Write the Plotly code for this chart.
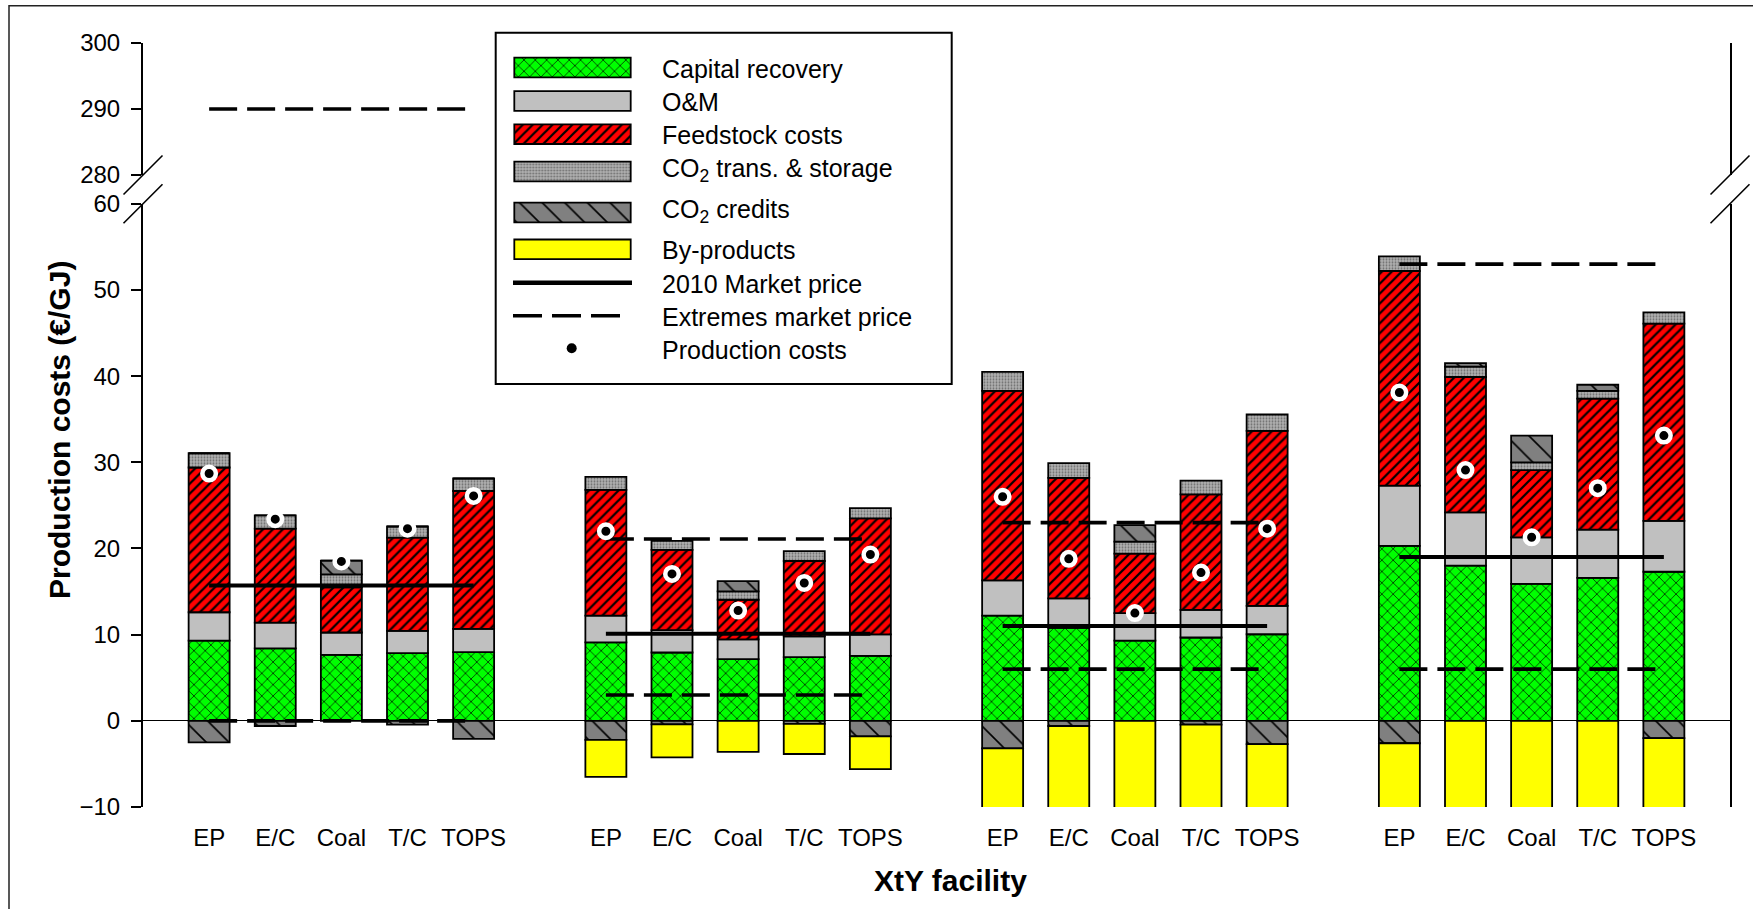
import plotly.graph_objects as go

# ---------------------------------------------------------------- data
facilities = ["EP", "E/C", "Coal", "T/C", "TOPS"]
n_groups = 4

# cost components per facility (€/GJ), four scenario groups of five facilities
capital_recovery = [9.3, 8.4, 7.65, 7.85, 7.97,
                    9.1, 7.93, 7.15, 7.4, 7.54,
                    12.2, 10.8, 9.3, 9.67, 10.05,
                    20.3, 18.0, 15.9, 16.6, 17.3]
om_costs = [3.3, 3.0, 2.6, 2.6, 2.7,
            3.1, 2.6, 2.3, 2.4, 2.5,
            4.1, 3.4, 3.2, 3.2, 3.3,
            7.0, 6.2, 5.4, 5.6, 5.9]
feedstock_costs = [16.8, 10.9, 5.25, 10.8, 16.0,
                   14.6, 9.3, 4.6, 8.75, 13.45,
                   22.0, 14.0, 6.9, 13.4, 20.3,
                   24.9, 15.7, 7.8, 15.2, 22.9]
co2_transport_storage = [1.65, 1.55, 1.5, 1.3, 1.45,
                         1.5, 1.05, 0.97, 1.14, 1.2,
                         2.2, 1.7, 1.4, 1.6, 1.9,
                         1.7, 1.2, 0.9, 0.9, 1.3]
co2_credits = [-2.5, -0.6, 1.6, -0.45, -2.1,
               -2.2, -0.4, 1.2, -0.35, -1.8,
               -3.2, -0.6, 1.9, -0.45, -2.7,
               -2.6, 0.4, 3.1, 0.7, -2.0]
by_products = [0.0, 0.0, 0.0, 0.0, 0.0,
               -4.3, -3.85, -3.6, -3.5, -3.8,
               -11.3, -10.5, -10.2, -10.25, -10.5,
               -13.2, -12.4, -11.8, -12.0, -12.3]
production_costs = [28.7, 23.4, 18.5, 22.3, 26.1,
                    22.0, 17.05, 12.8, 16.0, 19.3,
                    26.0, 18.8, 12.5, 17.2, 22.3,
                    38.1, 29.1, 21.3, 27.0, 33.1]

market_price_2010 = [15.7, 10.1, 11.0, 19.0]
market_price_low = [0.0, 3.0, 6.0, 6.0]
market_price_high = [290.0, 21.1, 23.0, 53.0]

# ---------------------------------------------------------------- geometry
W, H = 1753, 909
PL, PR, PT, PB = 143, 1730, 43, 807       # plot area edges in page pixels
LOWER_MAX, UPPER_MIN = 60, 280             # axis break


def fx(px):
    return (px - PL) / (PR - PL)


def fy(py):
    return (PB - py) / (PB - PT)


LOWER_TOP_PX = 203.8
UPPER_BOTTOM_PX = 175.0
lower_domain = [0, fy(LOWER_TOP_PX)]
upper_domain = [fy(UPPER_BOTTOM_PX), 1]

x_pos = [6 * g + i for g in range(n_groups) for i in range(len(facilities))]
tick_text = facilities * n_groups

FONT = "Liberation Sans, Arial, sans-serif"
BAR_W = 0.62
OUTLINE = dict(color="black", width=1.8)

styles = {
    "capital": dict(color="#00FF00", pattern=dict(shape="x", fgcolor="black", bgcolor="#00FF00",
                                                  size=8, solidity=0.16, fillmode="replace")),
    "om": dict(color="#C0C0C0"),
    "feed": dict(color="#FF0000", pattern=dict(shape="/", fgcolor="black", bgcolor="#FF0000",
                                               size=7, solidity=0.32, fillmode="replace")),
    "co2ts": dict(color="#A8A8A8", pattern=dict(shape=".", fgcolor="#6E6E6E", bgcolor="#B0B0B0",
                                                size=3, solidity=0.3, fillmode="replace")),
    "credits": dict(color="#808080", pattern=dict(shape="\\", fgcolor="black", bgcolor="#808080",
                                                  size=16, solidity=0.1, fillmode="replace")),
    "byprod": dict(color="#FFFF00"),
}

fig = go.Figure()

series = [
    ("Capital recovery", capital_recovery, "capital"),
    ("O&M", om_costs, "om"),
    ("Feedstock costs", feedstock_costs, "feed"),
    ("CO2 trans. & storage", co2_transport_storage, "co2ts"),
    ("CO2 credits", co2_credits, "credits"),
    ("By-products", by_products, "byprod"),
]
for name, vals, key in series:
    fig.add_trace(go.Bar(x=x_pos, y=vals, width=BAR_W, name=name,
                         marker=dict(line=OUTLINE, **styles[key]),
                         xaxis="x", yaxis="y", showlegend=False))

# market price lines per group
for g in range(n_groups):
    xs = [6 * g, 6 * g + 4]
    fig.add_trace(go.Scatter(x=xs, y=[market_price_2010[g]] * 2, mode="lines",
                             line=dict(color="black", width=4),
                             xaxis="x", yaxis="y", showlegend=False))
    for v in (market_price_low[g], market_price_high[g]):
        fig.add_trace(go.Scatter(x=xs, y=[v, v], mode="lines",
                                 line=dict(color="black", width=3.6, dash="28px,10px"),
                                 xaxis="x", yaxis="y2" if v > LOWER_MAX else "y",
                                 showlegend=False))

# production cost markers
fig.add_trace(go.Scatter(x=x_pos, y=production_costs, mode="markers",
                         marker=dict(color="black", size=13.5, line=dict(color="white", width=4.5)),
                         xaxis="x", yaxis="y", showlegend=False))

# ---------------------------------------------------------------- legend box
LEG_X0, LEG_X1, LEG_Y0, LEG_Y1 = 495.7, 951.7, 32.7, 384.0
SW_X0, SW_X1 = 514.3, 630.7      # swatch span (page px)
SW_H = 19.6
TXT_X = 660

legend_rows = [
    ("Capital recovery", "capital", 67.5, 69.3),
    ("O&M", "om", 101.0, 101.7),
    ("Feedstock costs", "feed", 134.2, 135.0),
    ("CO<sub>2</sub> trans. & storage", "co2ts", 171.5, 170.0),
    ("CO<sub>2</sub> credits", "credits", 212.5, 210.7),
    ("By-products", "byprod", 249.3, 250.0),
]
for label, key, y_sw, y_txt in legend_rows:
    fig.add_trace(go.Bar(y=[y_sw], x=[SW_X1 - SW_X0], width=[SW_H], orientation="h",
                         marker=dict(line=OUTLINE, **styles[key]),
                         xaxis="x2", yaxis="y3", showlegend=False, hoverinfo="skip"))

fig.add_trace(go.Scatter(x=[513 - SW_X0, 632 - SW_X0], y=[282.7, 282.7], mode="lines",
                         line=dict(color="black", width=4.5), xaxis="x2", yaxis="y3",
                         showlegend=False, hoverinfo="skip"))
fig.add_trace(go.Scatter(x=[513 - SW_X0, 620 - SW_X0], y=[315.7, 315.7], mode="lines",
                         line=dict(color="black", width=3.6, dash="29px,10px"),
                         xaxis="x2", yaxis="y3", showlegend=False, hoverinfo="skip"))
fig.add_trace(go.Scatter(x=[571.7 - SW_X0], y=[348.3], mode="markers",
                         marker=dict(color="black", size=10), xaxis="x2", yaxis="y3",
                         showlegend=False, hoverinfo="skip"))

legend_text = [(r[0], r[3]) for r in legend_rows] + [
    ("2010 Market price", 284.0),
    ("Extremes market price", 316.7),
    ("Production costs", 350.0),
]
annotations = []
for label, y_txt in legend_text:
    annotations.append(dict(x=TXT_X - SW_X0, y=y_txt, xref="x2", yref="y3", text=label,
                            showarrow=False, xanchor="left", yanchor="middle",
                            font=dict(family=FONT, size=25, color="black")))

# axis titles
annotations.append(dict(x=fx(950), y=fy(880), xref="paper", yref="paper", text="XtY facility",
                        showarrow=False, xanchor="center", yanchor="middle",
                        font=dict(family=FONT, size=30, color="black", weight="bold")))
annotations.append(dict(x=fx(59), y=fy(430), xref="paper", yref="paper",
                        text="Production costs (€/GJ)", textangle=-90,
                        showarrow=False, xanchor="center", yanchor="middle",
                        font=dict(family=FONT, size=30, color="black", weight="bold")))

# ---------------------------------------------------------------- shapes
shapes = [
    # outer frame
    dict(type="rect", xref="paper", yref="paper", x0=fx(9), x1=fx(1770), y0=fy(5.7), y1=fy(925),
         line=dict(color="#222222", width=1.5), fillcolor="rgba(0,0,0,0)", layer="above"),
    # legend frame
    dict(type="rect", xref="paper", yref="paper", x0=fx(LEG_X0), x1=fx(LEG_X1),
         y0=fy(LEG_Y1), y1=fy(LEG_Y0), line=dict(color="black", width=2),
         fillcolor="rgba(0,0,0,0)", layer="above"),
]
# axis-break slashes on both vertical axes
for ax_px in (PL, PR):
    for cy in (UPPER_BOTTOM_PX, LOWER_TOP_PX):
        shapes.append(dict(type="line", xref="paper", yref="paper",
                           x0=fx(ax_px - 19.5), y0=fy(cy + 19.5),
                           x1=fx(ax_px + 19.5), y1=fy(cy - 19.5),
                           line=dict(color="black", width=1.6), layer="above"))

y_common = dict(showline=True, linecolor="black", linewidth=2, mirror=True,
                ticks="outside", ticklen=10, tickwidth=2, tickcolor="black",
                showgrid=False, anchor="x", automargin=False, ticklabelstandoff=6,
                tickfont=dict(family=FONT, size=24, color="black"), fixedrange=True)

fig.update_layout(
    width=W, height=H,
    margin=dict(l=PL, r=W - PR, t=PT, b=H - PB, pad=0),
    barmode="relative",
    plot_bgcolor="white", paper_bgcolor="white",
    showlegend=False,
    font=dict(family=FONT, size=24, color="black"),
    xaxis=dict(domain=[0, 1], range=[-1, 23], tickmode="array", tickvals=x_pos,
               ticktext=tick_text, showline=False, showgrid=False, zeroline=False,
               ticks="", ticklabelstandoff=14, anchor="y", automargin=False,
               tickfont=dict(family=FONT, size=24, color="black"), fixedrange=True),
    yaxis=dict(domain=lower_domain, range=[-10, LOWER_MAX],
               tickvals=list(range(-10, LOWER_MAX + 1, 10)),
               zeroline=True, zerolinecolor="black", zerolinewidth=1.2, **y_common),
    yaxis2=dict(domain=upper_domain, range=[UPPER_MIN, 300], tickvals=[280, 290, 300],
                zeroline=False, **y_common),
    xaxis2=dict(domain=[fx(LEG_X0), fx(LEG_X1)], range=[LEG_X0 - SW_X0, LEG_X1 - SW_X0],
                anchor="y3", visible=False, fixedrange=True),
    yaxis3=dict(domain=[fy(LEG_Y1), 1], range=[LEG_Y1, PT], anchor="x2",
                visible=False, fixedrange=True),
    annotations=annotations,
    shapes=shapes,
)

fig.write_html("out.html")
